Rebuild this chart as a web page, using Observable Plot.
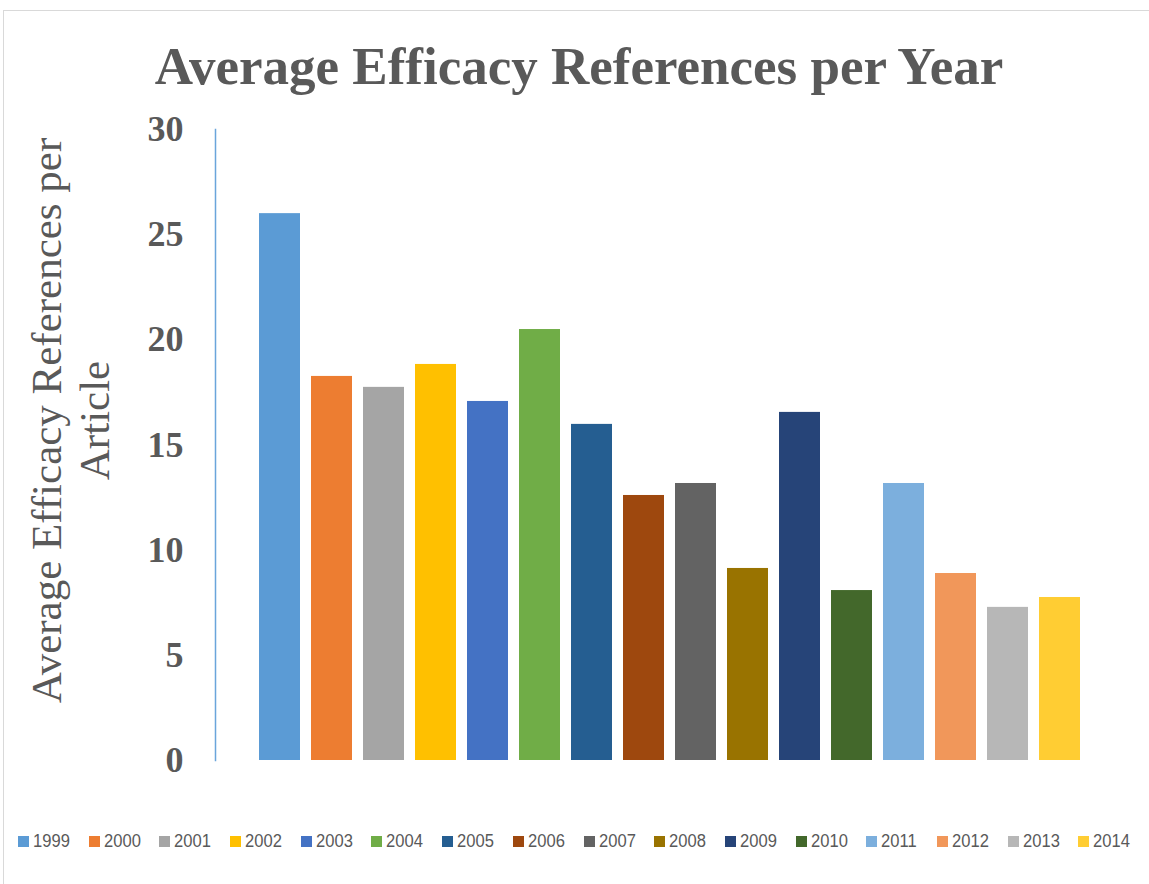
<!DOCTYPE html>
<html><head><meta charset="utf-8">
<script src="https://cdn.jsdelivr.net/npm/d3@7"></script>
<script src="https://cdn.jsdelivr.net/npm/@observablehq/plot@0.6"></script>
<style>
body{margin:0;background:#fff;}
#wrap{position:relative;width:1149px;height:884px;overflow:hidden;background:#fff;}
#chart{position:absolute;left:0;top:0}
#border{position:absolute;left:3px;top:10px;right:-5px;bottom:-5px;border-left:1.5px solid #D9D9D9;border-top:1.5px solid #D9D9D9;pointer-events:none}
#title{position:absolute;left:0;top:40px;width:1149px;text-align:center;font:bold 53px "Liberation Serif",serif;color:#595959;line-height:1;padding-left:9px;box-sizing:border-box;white-space:nowrap}
#legend{position:absolute;left:18px;top:830px;display:flex;font:18px "Liberation Sans",sans-serif;color:#595959}
.item{width:70.7px;display:flex;align-items:center;height:22px}
.sw{width:11px;height:11px;margin-right:4px;flex:none}
.lb{display:inline-block;transform:scaleX(0.92);transform-origin:left center}
</style></head>
<body><div id="wrap"><div id="chart"></div><div id="title"></div><div id="legend"></div><div id="border"></div></div>
<script>
const chartTitle = "Average Efficacy References per Year";
const yLabel = "Average Efficacy References per\nArticle";
const years = ["1999","2000","2001","2002","2003","2004","2005","2006","2007","2008","2009","2010","2011","2012","2013","2014"];
const values = [26.0, 18.26, 17.74, 18.83, 17.07, 20.49, 15.98, 12.6, 13.17, 9.13, 16.55, 8.08, 13.17, 8.89, 7.28, 7.75];
const colors = ["#5B9BD5","#ED7D31","#A5A5A5","#FFC000","#4472C4","#70AD47","#255E91","#9E480E","#636363","#997300","#264478","#43682B","#7CAFDD","#F1975A","#B7B7B7","#FFCD33"];
const yTicks = [0,5,10,15,20,25,30];

const data = years.map((year, i) => ({year, value: values[i]}));

const svg = Plot.plot({
  width: 1149, height: 800,
  marginTop: 129, marginBottom: 40, marginLeft: 215, marginRight: 24,
  style: {background: "transparent"},
  x: {domain: years, paddingInner: 0.21, paddingOuter: 0.855, axis: null},
  y: {domain: [0, 30], ticks: yTicks},
  color: {domain: years, range: colors},
  marks: [
    Plot.barY(data, {x: "year", y: "value", fill: "year"}),
    Plot.axisY({ticks: yTicks, tickSize: 0, tickPadding: 32, fontSize: 36, fontWeight: "bold", fontFamily: "Liberation Serif, serif", fill: "#595959", label: null}),
    Plot.frame({anchor: "left", stroke: "#6AA5DB", strokeWidth: 1.5}),
    Plot.text([yLabel], {frameAnchor: "left", rotate: -90, dx: -146, dy: -24.5, fontSize: 43, fontFamily: "Liberation Serif, serif", fill: "#595959", lineHeight: 1.12, lineAnchor: "middle", textAnchor: "middle"})
  ]
});
document.getElementById("chart").appendChild(svg);
document.getElementById("title").textContent = chartTitle;

const legend = document.getElementById("legend");
years.forEach((y, i) => {
  const it = document.createElement("div"); it.className = "item";
  const sw = document.createElement("span"); sw.className = "sw"; sw.style.background = colors[i];
  const lb = document.createElement("span"); lb.className = "lb"; lb.textContent = y;
  it.appendChild(sw); it.appendChild(lb); legend.appendChild(it);
});
</script>
</body></html>
